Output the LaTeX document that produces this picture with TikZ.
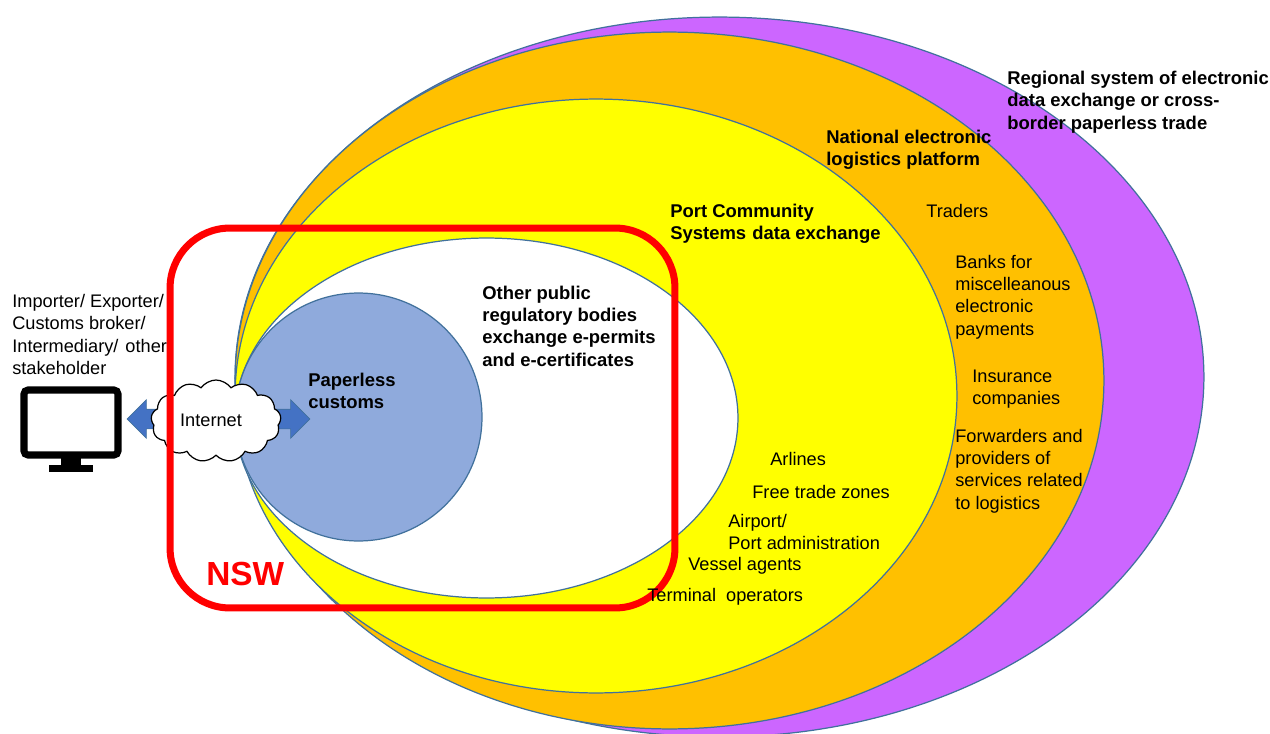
\documentclass[tikz,border=0pt]{standalone}
\usepackage{fontspec}
\setmainfont{Liberation Sans}
\usetikzlibrary{shapes.geometric,shapes.arrows,shapes.symbols}
\definecolor{zonepurple}{HTML}{CC66FF}
\definecolor{zoneorange}{HTML}{FFC000}
\definecolor{zoneyellow}{HTML}{FFFF00}
\definecolor{zoneblue}{HTML}{8FAADC}
\definecolor{zoneline}{HTML}{41719C}
\definecolor{arrowblue}{HTML}{4472C4}
\definecolor{nswred}{HTML}{FF0000}
\tikzset{
    zone/.style={ellipse,draw=zoneline,line width=0.7pt,inner sep=0pt},
    lbl/.style={anchor=west,align=left,inner sep=0pt,font=\fontsize{10.35}{12.7}\selectfont},
    lblb/.style={lbl,font=\fontsize{10.5}{12.7}\selectfont\bfseries},
}
\begin{document}
\begin{tikzpicture}[x=0.02cm,y=-0.02cm]
    \useasboundingbox (0,0) rectangle (1270,733);
    \node[zone,fill=zonepurple,minimum width=19.38cm,minimum height=14.4cm] at (719.5,377) (e1) {};
    \node[zone,fill=zoneorange,minimum width=17.38cm,minimum height=13.94cm] at (669.5,380.5) (e2) {};
    \node[zone,fill=zoneyellow,minimum width=14.44cm,minimum height=11.88cm] at (596,396) (e3) {};
    \node[zone,fill=white,minimum width=10.06cm,minimum height=7.2cm] at (486.5,418) (e4) {};
    \node[zone,fill=zoneblue,minimum width=4.94cm,minimum height=4.96cm] at (358.5,417) (e5) {};
    \node[double arrow,fill=arrowblue,draw=zoneline,line width=0.4pt,minimum height=3.66cm,
        double arrow head extend=0.19cm,inner sep=0.19cm] at (218.5,419) (a1) {};
    \node[cloud,draw,fill=white,line width=0.7pt,cloud puffs=13,cloud puff arc=110,aspect=1.6,
        minimum width=2.6cm,minimum height=1.64cm,inner sep=0pt] at (216,421) (c1) {};
    \node[draw=nswred,line width=4pt,rounded corners=1.2cm,minimum width=10.1cm,minimum height=7.6cm] at (422.5,418) (r1) {};
    % monitor
    \node[draw,fill=white,line width=4pt,rounded corners=0.08cm,minimum width=1.88cm,minimum height=1.3cm,inner sep=0pt] at (71,422.5) (m1) {};
    \node[fill=black,minimum width=0.4cm,minimum height=0.2cm,inner sep=0pt] at (71,461) (m2) {};
    \node[fill=black,minimum width=0.9cm,minimum height=0.15cm,inner sep=0pt] at (71,468.5) (m3) {};
    % labels
    \node[anchor=center,inner sep=0pt,font=\fontsize{10.35}{12.7}\selectfont] at (211,420) (t0) {Internet};
    \node[lbl] at (12,334.5) (t1) {Importer/ Exporter/\\Customs broker/\\Intermediary/\hspace{4pt}other\\stakeholder};
    \node[lblb] at (308,391) (t2) {Paperless\\customs};
    \node[lblb] at (482,326) (t3) {Other public\\regulatory bodies\\exchange e-permits\\and e-certificates};
    \node[lblb] at (670,224) (t4) {Port Community\\Systems\hspace{3.5pt}data exchange};
    \node[lblb] at (826,150) (t5) {National electronic\\logistics platform};
    \node[lblb] at (1007,102) (t6) {Regional system of electronic\\data exchange or cross-\\border paperless trade};
    \node[lbl] at (926,211) (t7) {Traders};
    \node[lbl] at (955,297) (t8) {Banks for\\miscelleanous\\electronic\\payments};
    \node[lbl] at (972,389) (t9) {Insurance\\companies};
    \node[lbl] at (955,471) (t10) {Forwarders and\\providers of\\services related\\to logistics};
    \node[lbl] at (770,459) (t11) {Arlines};
    \node[lbl] at (752,492) (t12) {Free trade zones};
    \node[lbl] at (728,532) (t13) {Airport/\\Port administration};
    \node[lbl] at (688,566) (t14) {Vessel agents};
    \node[lbl] at (647,597) (t15) {Terminal\ \ operators};
    \node[lblb,text=nswred,font=\fontsize{19}{22}\selectfont\bfseries] at (206,574) (t16) {NSW};
\end{tikzpicture}
\end{document}
